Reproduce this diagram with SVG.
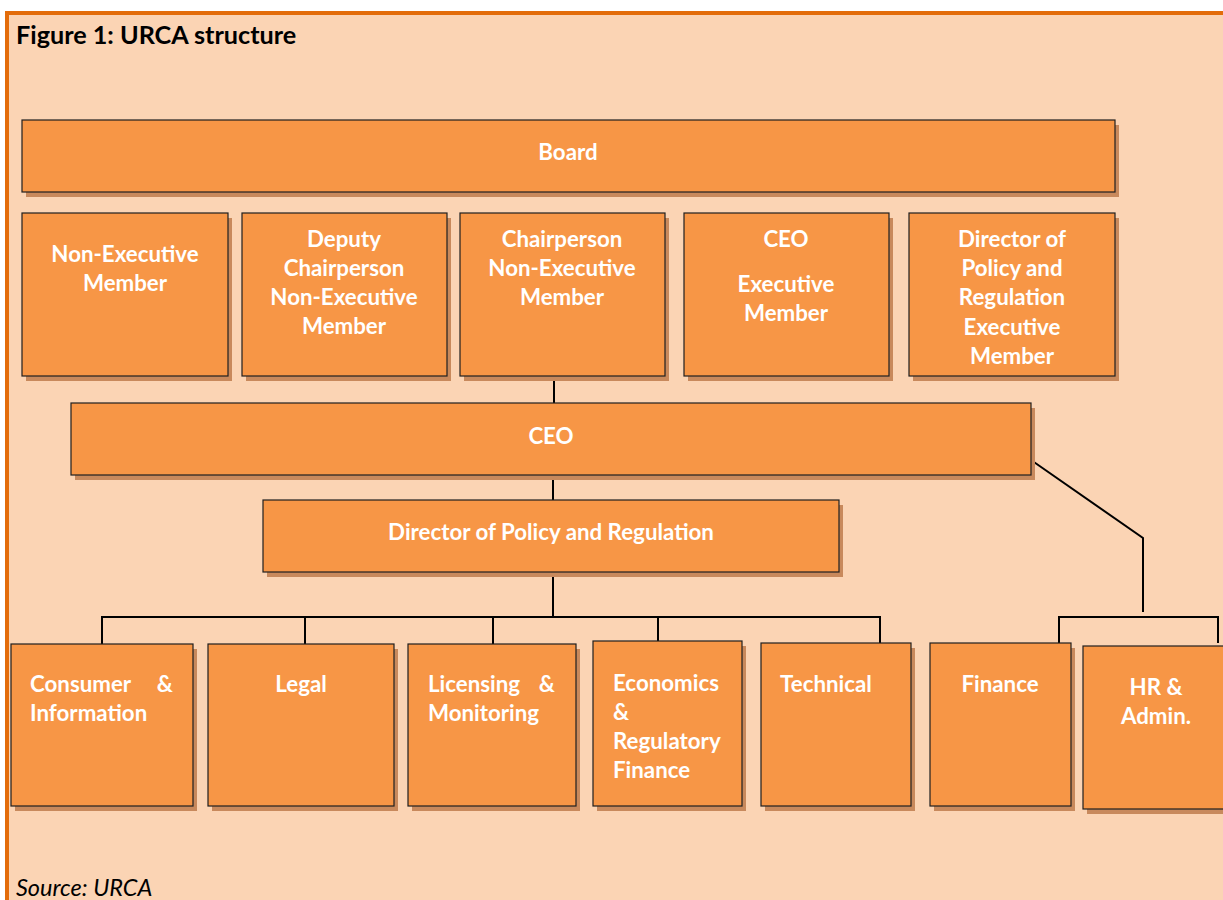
<svg xmlns="http://www.w3.org/2000/svg" width="1223" height="900" viewBox="0 0 1223 900">
  <style>
    .frame { fill: #FBD4B4; }
    .edge { fill: #E36C0A; }
    .box { fill: #F79646; stroke: #1e1e1e; stroke-width: 1.2; }
    .sh { fill: #C8895C; }
    .lbl { font-family: Lato, "Open Sans", sans-serif; font-weight: bold; font-size: 22.3px; fill: #ffffff; }
    .mid { text-anchor: middle; }
    .title { font-family: Lato, "Open Sans", sans-serif; font-weight: bold; font-size: 25.2px; fill: #000000; }
    .src { font-family: Lato, "Open Sans", sans-serif; font-style: italic; font-size: 23.5px; fill: #000000; }
    .wire { fill: none; stroke: #000000; stroke-width: 2; }
  </style>

  <!-- page panel with orange rule at top and left -->
  <rect x="0" y="0" width="1223" height="900" fill="#ffffff"/>
  <rect class="frame" x="5" y="11" width="1218" height="889"/>
  <rect class="edge" x="5" y="11" width="1218" height="4"/>
  <rect class="edge" x="5" y="11" width="4" height="889"/>

  <text class="title" x="16" y="44">Figure 1: URCA structure</text>

  <!-- connectors -->
  <g id="connectors">
    <path class="wire" d="M554 376 V403"/>
    <path class="wire" d="M553 475 V500"/>
    <path class="wire" d="M553 572 V618"/>
    <path class="wire" d="M102 644 V617 H880 V644"/>
    <path class="wire" d="M305 617 V644"/>
    <path class="wire" d="M493 617 V644"/>
    <path class="wire" d="M658 617 V641"/>
    <path class="wire" d="M1031 460 L1143 538 V612"/>
    <path class="wire" d="M1059 643 V617 H1218 V643"/>
  </g>

  <!-- governing board -->
  <g id="board">
    <rect class="sh" x="26" y="125" width="1093" height="72"/>
    <rect class="box" x="22" y="120" width="1093" height="72"/>
    <text class="lbl mid" x="568" y="160">Board</text>
  </g>

  <g id="member-nonexec">
    <rect class="sh" x="26" y="218" width="206" height="163"/>
    <rect class="box" x="22" y="213" width="206" height="163"/>
    <text class="lbl mid" x="125" y="262">Non-Executive</text>
    <text class="lbl mid" x="125" y="291">Member</text>
  </g>

  <g id="member-deputy">
    <rect class="sh" x="246" y="218" width="205" height="163"/>
    <rect class="box" x="242" y="213" width="205" height="163"/>
    <text class="lbl mid" x="344" y="247">Deputy</text>
    <text class="lbl mid" x="344" y="276">Chairperson</text>
    <text class="lbl mid" x="344" y="305">Non-Executive</text>
    <text class="lbl mid" x="344" y="334">Member</text>
  </g>

  <g id="member-chair">
    <rect class="sh" x="464" y="218" width="205" height="163"/>
    <rect class="box" x="460" y="213" width="205" height="163"/>
    <text class="lbl mid" x="562" y="247">Chairperson</text>
    <text class="lbl mid" x="562" y="276">Non-Executive</text>
    <text class="lbl mid" x="562" y="305">Member</text>
  </g>

  <g id="member-ceo">
    <rect class="sh" x="688" y="218" width="205" height="163"/>
    <rect class="box" x="684" y="213" width="205" height="163"/>
    <text class="lbl mid" x="786" y="247">CEO</text>
    <text class="lbl mid" x="786" y="292">Executive</text>
    <text class="lbl mid" x="786" y="321">Member</text>
  </g>

  <g id="member-director">
    <rect class="sh" x="913" y="218" width="206" height="163"/>
    <rect class="box" x="909" y="213" width="206" height="163"/>
    <text class="lbl mid" x="1012" y="247">Director of</text>
    <text class="lbl mid" x="1012" y="276">Policy and</text>
    <text class="lbl mid" x="1012" y="305">Regulation</text>
    <text class="lbl mid" x="1012" y="335">Executive</text>
    <text class="lbl mid" x="1012" y="364">Member</text>
  </g>

  <!-- executive line -->
  <g id="ceo">
    <rect class="sh" x="75" y="408" width="960" height="72"/>
    <rect class="box" x="71" y="403" width="960" height="72"/>
    <text class="lbl mid" x="551" y="444">CEO</text>
  </g>

  <g id="director-policy">
    <rect class="sh" x="267" y="505" width="576" height="72"/>
    <rect class="box" x="263" y="500" width="576" height="72"/>
    <text class="lbl mid" x="551" y="540">Director of Policy and Regulation</text>
  </g>

  <!-- departments -->
  <g id="dept-consumer">
    <rect class="sh" x="15" y="649" width="182" height="162"/>
    <rect class="box" x="11" y="644" width="182" height="162"/>
    <text class="lbl" x="30" y="692">Consumer</text>
    <text class="lbl" x="173" y="692" text-anchor="end">&amp;</text>
    <text class="lbl" x="30" y="721">Information</text>
  </g>

  <g id="dept-legal">
    <rect class="sh" x="212" y="649" width="186" height="162"/>
    <rect class="box" x="208" y="644" width="186" height="162"/>
    <text class="lbl mid" x="301" y="692">Legal</text>
  </g>

  <g id="dept-licensing">
    <rect class="sh" x="412" y="649" width="168" height="162"/>
    <rect class="box" x="408" y="644" width="168" height="162"/>
    <text class="lbl" x="428" y="692">Licensing</text>
    <text class="lbl" x="555" y="692" text-anchor="end">&amp;</text>
    <text class="lbl" x="428" y="721">Monitoring</text>
  </g>

  <g id="dept-economics">
    <rect class="sh" x="597" y="646" width="149" height="165"/>
    <rect class="box" x="593" y="641" width="149" height="165"/>
    <text class="lbl" x="613" y="691">Economics</text>
    <text class="lbl" x="613" y="720">&amp;</text>
    <text class="lbl" x="613" y="749">Regulatory</text>
    <text class="lbl" x="613" y="778">Finance</text>
  </g>

  <g id="dept-technical">
    <rect class="sh" x="765" y="648" width="150" height="163"/>
    <rect class="box" x="761" y="643" width="150" height="163"/>
    <text class="lbl mid" x="826" y="692">Technical</text>
  </g>

  <g id="dept-finance">
    <rect class="sh" x="934" y="648" width="141" height="163"/>
    <rect class="box" x="930" y="643" width="141" height="163"/>
    <text class="lbl mid" x="1000" y="692">Finance</text>
  </g>

  <g id="dept-hr">
    <rect class="sh" x="1087" y="651" width="150" height="163"/>
    <rect class="box" x="1083" y="646" width="150" height="163"/>
    <text class="lbl mid" x="1156" y="695">HR &amp;</text>
    <text class="lbl mid" x="1156" y="724">Admin.</text>
  </g>

  <text class="src" x="16" y="896">Source: URCA</text>
</svg>
